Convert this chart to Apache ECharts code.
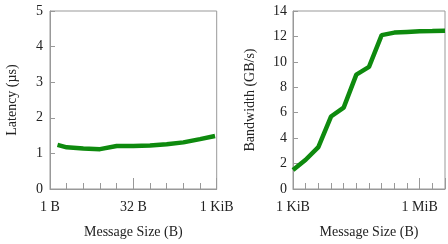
<!DOCTYPE html>
<html>
<head>
<meta charset="utf-8">
<script src="https://cdn.jsdelivr.net/npm/echarts@6/dist/echarts.min.js"></script>
<style>
  html, body { margin: 0; padding: 0; background: #fff; }
  #chart { width: 448px; height: 244px; }
</style>
</head>
<body>
<div id="chart"></div>
<script>
// message sizes are stored as log2(bytes)
var latSizeExp = [0.45, 1, 2, 3, 4, 5, 6, 7, 8, 9, 9.9];
var latency = [1.24, 1.17, 1.14, 1.12, 1.21, 1.21, 1.22, 1.26, 1.31, 1.40, 1.49];

var bwSizeExp = [10, 11, 12, 13, 14, 15, 16, 17, 18, 19, 20, 21, 22];
var bandwidth = [1.5, 2.3, 3.3, 5.7, 6.4, 9.0, 9.6, 12.1, 12.3, 12.35, 12.4, 12.42, 12.45];

var latTicks = { 0: '1 B', 5: '32 B', 10: '1 KiB' };
var bwTicks = { 10: '1 KiB', 20: '1 MiB', 30: '1 GiB' };

var font = 'Liberation Serif';
var txt = '#222';
var gray = '#999';
var green = '#0e8a0e';

function pairs(xs, ys) {
  return xs.map(function (x, i) { return [x, ys[i]]; });
}

function minorAxis(grid, min, max) {
  return {
    type: 'value', gridIndex: grid, position: 'bottom', min: min, max: max, interval: 1,
    axisLine: { show: true, lineStyle: { color: gray, width: 1 } },
    axisTick: { show: true, inside: true, length: 6, lineStyle: { color: gray } },
    axisLabel: { show: false },
    splitLine: { show: false }
  };
}

function majorAxis(grid, min, max, step, labels) {
  return {
    type: 'value', gridIndex: grid, position: 'bottom', offset: 0,
    min: min, max: max, interval: step,
    name: 'Message Size (B)', nameLocation: 'middle', nameGap: 36,
    nameTextStyle: { fontFamily: font, fontSize: 14, color: txt },
    axisLine: { show: false },
    axisTick: { show: true, inside: true, length: 11, lineStyle: { color: gray } },
    axisLabel: {
      fontFamily: font, fontSize: 14, color: txt, margin: 11,
      formatter: function (v) { return labels[v] || ''; }
    },
    splitLine: { show: false }
  };
}

function yAxis(grid, max, step, name, gap, margin) {
  return {
    type: 'value', gridIndex: grid, min: 0, max: max, interval: step,
    name: name, nameLocation: 'middle', nameGap: gap,
    nameTextStyle: { fontFamily: font, fontSize: 14, color: txt },
    axisLine: { show: true, lineStyle: { color: gray, width: 1 } },
    axisTick: { show: true, inside: true, length: 5, lineStyle: { color: gray } },
    axisLabel: { fontFamily: font, fontSize: 14, color: txt, margin: margin },
    splitLine: { show: false }
  };
}

var chart = echarts.init(document.getElementById('chart'));
chart.setOption({
  animation: false,
  grid: [
    { left: 50, top: 11, width: 166.7, height: 182, show: true, borderColor: gray, borderWidth: 1 },
    { left: 293, top: 11, width: 160, height: 182, show: true, borderColor: gray, borderWidth: 1 }
  ],
  xAxis: [
    minorAxis(0, 0, 10),
    majorAxis(0, 0, 10, 5, latTicks),
    minorAxis(1, 10, 22),
    majorAxis(1, 10, 22, 10, bwTicks)
  ],
  yAxis: [
    yAxis(0, 5, 1, 'Latency (µs)', 31, 7),
    yAxis(1, 14, 2, 'Bandwidth (GB/s)', 36, 6)
  ],
  series: [
    {
      type: 'line', xAxisIndex: 0, yAxisIndex: 0,
      data: pairs(latSizeExp, latency),
      showSymbol: false, symbol: 'none',
      lineStyle: { color: green, width: 4.5 }
    },
    {
      type: 'line', xAxisIndex: 2, yAxisIndex: 1,
      data: pairs(bwSizeExp, bandwidth),
      showSymbol: false, symbol: 'none',
      lineStyle: { color: green, width: 4.5 }
    }
  ]
});
</script>
</body>
</html>
